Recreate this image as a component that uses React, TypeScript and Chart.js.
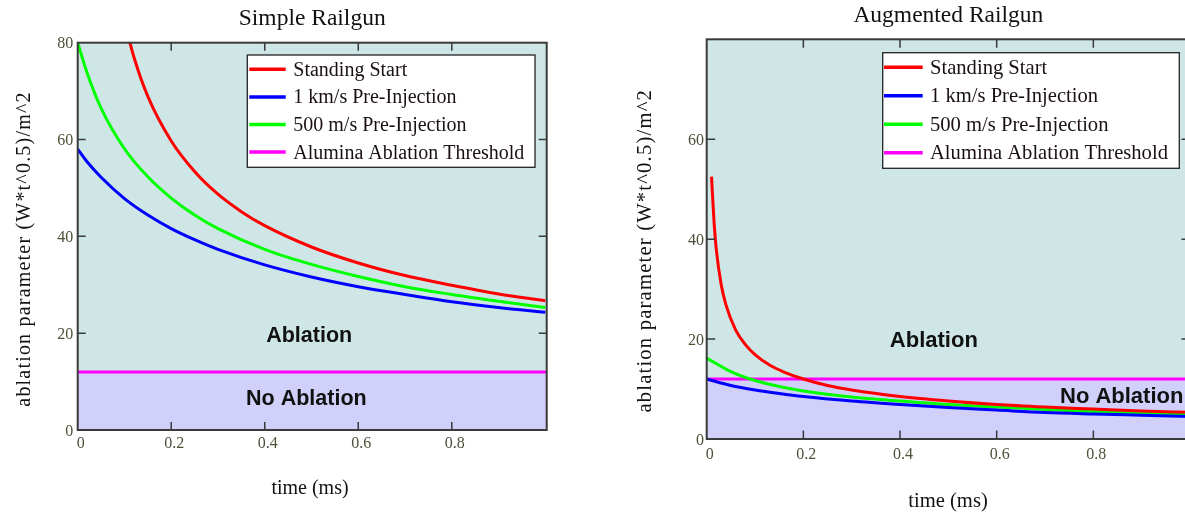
import React, { useEffect, useRef } from "react";
import { Chart, registerables } from "chart.js";

Chart.register(...registerables);

// ---------- data ----------
const seriesNames = [
  "Standing Start",
  "1 km/s Pre-Injection",
  "500 m/s Pre-Injection",
  "Alumina Ablation Threshold",
];
const seriesColors = ["#ff0000", "#0000ff", "#00ff00", "#ff00ff"];

const xTickValues = [0, 0.2, 0.4, 0.6, 0.8];
const simpleYTickValues = [0, 20, 40, 60, 80];
const augYTickValues = [0, 20, 40, 60];

const thresholdT = [0, 1.01];
const thresholdV = [12, 12];

// Simple railgun
const simpleRedT = [0.1, 0.12, 0.15, 0.2, 0.25, 0.3, 0.35, 0.4, 0.5, 0.6, 0.7, 0.8, 0.9, 1.0];
const simpleRedV = [84.4, 77.1, 68.9, 59.7, 53.4, 48.7, 45.1, 42.2, 37.8, 34.5, 31.9, 29.9, 28.1, 26.7];
const simpleT = [0, 0.02, 0.05, 0.1, 0.15, 0.2, 0.25, 0.3, 0.4, 0.5, 0.6, 0.7, 0.8, 0.9, 1.0];
const simpleBlueV = [58.0, 55.4, 52.2, 47.8, 44.4, 41.6, 39.3, 37.3, 34.1, 31.6, 29.6, 28.0, 26.5, 25.3, 24.3];
const simpleGreenV = [80.0, 73.8, 66.5, 58.1, 52.3, 47.9, 44.4, 41.6, 37.3, 34.2, 31.7, 29.6, 28.0, 26.6, 25.3];

// Augmented railgun
const augRedT = [0.01, 0.015, 0.02, 0.03, 0.04, 0.06, 0.08, 0.1, 0.13, 0.16, 0.2, 0.25, 0.3, 0.4, 0.5, 0.6, 0.7, 0.8, 0.9, 1.0];
const augRedV = [52.5, 43.7, 37.8, 30.9, 26.8, 21.8, 18.9, 16.9, 14.8, 13.4, 12.0, 10.7, 9.8, 8.5, 7.6, 6.9, 6.4, 6.0, 5.6, 5.35];
const augT = [0, 0.05, 0.1, 0.15, 0.2, 0.3, 0.4, 0.5, 0.6, 0.7, 0.8, 0.9, 1.0];
const augBlueV = [12.0, 10.7, 9.8, 9.1, 8.5, 7.6, 6.9, 6.3, 5.8, 5.3, 5.0, 4.75, 4.5];
const augGreenV = [16.2, 13.5, 11.7, 10.5, 9.6, 8.4, 7.6, 6.9, 6.4, 5.9, 5.5, 5.2, 4.95];

// region annotations (data coords: t, value at text baseline)
const regionTexts = ["Ablation", "No Ablation"];
const simpleRegionT = [0.495, 0.489];
const simpleRegionV = [18.1, 5.16];
const augRegionT = [0.47, 0.731];
const augRegionV = [18.4, 7.3];

const TEAL = "rgb(207,230,230)";
const LAVENDER = "rgb(208,208,250)";
const SERIF = "'Liberation Serif', 'Times New Roman', serif";
const SANS = "'Liberation Sans', Arial, sans-serif";

type PanelCfg = {
  left: number;
  w: number;
  padTop: number;
  padRight: number;
  yWidth: number;
  xHeight: number;
  xMax: number;
  yMax: number;
  yTicks: number[];
  yLabelPad: number;
  xLabelPad: number;
  tickLen: number;
  title: string;
  titleSize: number;
  titleBaseline: number;
  yTitleX: number;
  yTitleY: number;
  xTitleX: number;
  xTitleBaseline: number;
  axisTitleSize: number;
  legend: { right: number; top: number; w: number; h: number; row0: number; gap: number; s0: number; s1: number; tx: number; font: number };
  regionFont: number;
  regionT: number[];
  regionV: number[];
  regionAlign: CanvasTextAlign[];
  curves: { t: number[]; v: number[] }[];
};

const pts = (t: number[], v: number[]) => t.map((x, i) => ({ x, y: v[i] }));

const simpleCfg: PanelCfg = {
  left: 0,
  w: 590,
  padTop: 42.7,
  padRight: 590 - 546.7,
  yWidth: 77.7,
  xHeight: 82,
  xMax: 1.003,
  yMax: 80,
  yTicks: simpleYTickValues,
  yLabelPad: 4.4,
  xLabelPad: 4.4,
  tickLen: 8,
  title: "Simple Railgun",
  titleSize: 23.5,
  titleBaseline: 25,
  yTitleX: 29.7,
  yTitleY: 249,
  xTitleX: 310,
  xTitleBaseline: 494,
  axisTitleSize: 20,
  legend: { right: 11.7, top: 12.3, w: 287.7, h: 112.3, row0: 14.3, gap: 27.6, s0: 2, s1: 38.4, tx: 46, font: 20 },
  regionFont: 21.5,
  regionT: simpleRegionT,
  regionV: simpleRegionV,
  regionAlign: ["center", "center"],
  curves: [
    { t: simpleRedT, v: simpleRedV },
    { t: simpleT, v: simpleBlueV },
    { t: simpleT, v: simpleGreenV },
    { t: thresholdT, v: thresholdV },
  ],
};

const augCfg: PanelCfg = {
  left: 595,
  w: 610,
  padTop: 39.3,
  padRight: 610 - (1190 - 595),
  yWidth: 111.7,
  xHeight: 73,
  xMax: 1,
  yMax: 80,
  yTicks: augYTickValues,
  yLabelPad: 2.7,
  xLabelPad: 6.4,
  tickLen: 8.5,
  title: "Augmented Railgun",
  titleSize: 23.5,
  titleBaseline: 21.7,
  yTitleX: 56.4,
  yTitleY: 250.8,
  xTitleX: 353,
  xTitleBaseline: 506.7,
  axisTitleSize: 20.6,
  legend: { right: 10.7, top: 13.4, w: 296.6, h: 115.6, row0: 14.6, gap: 28.5, s0: 1.3, s1: 40, tx: 47.3, font: 20.6 },
  regionFont: 22,
  regionT: augRegionT,
  regionV: augRegionV,
  regionAlign: ["center", "left"],
  curves: [
    { t: augRedT, v: augRedV },
    { t: augT, v: augBlueV },
    { t: augT, v: augGreenV },
    { t: thresholdT, v: thresholdV },
  ],
};

function makeDecor(cfg: PanelCfg) {
  return {
    id: "decor",
    beforeDatasetsDraw(chart: any) {
      const { ctx, chartArea: a, scales } = chart;
      const ty = scales.y.getPixelForValue(thresholdV[0]);
      ctx.save();
      ctx.fillStyle = TEAL;
      ctx.fillRect(a.left, a.top, a.right - a.left, ty - a.top);
      ctx.fillStyle = LAVENDER;
      ctx.fillRect(a.left, ty, a.right - a.left, a.bottom - ty);
      ctx.restore();
    },
    afterDatasetsDraw(chart: any) {
      const { ctx, chartArea: a, scales } = chart;
      const xs = scales.x;
      const ys = scales.y;
      ctx.save();

      // region labels
      ctx.fillStyle = "#111111";
      ctx.font = `bold ${cfg.regionFont}px ${SANS}`;
      ctx.textBaseline = "alphabetic";
      regionTexts.forEach((txt, i) => {
        ctx.textAlign = cfg.regionAlign[i];
        ctx.fillText(txt, xs.getPixelForValue(cfg.regionT[i]), ys.getPixelForValue(cfg.regionV[i]));
      });

      // border
      ctx.strokeStyle = "#3a3a3a";
      ctx.lineWidth = 2;
      ctx.strokeRect(a.left, a.top, a.right - a.left, a.bottom - a.top);

      // inner tick marks on all four sides
      ctx.lineWidth = 1.5;
      ctx.beginPath();
      xTickValues.forEach((v) => {
        if (v <= 0) return;
        const px = xs.getPixelForValue(v);
        ctx.moveTo(px, a.bottom);
        ctx.lineTo(px, a.bottom - cfg.tickLen);
        ctx.moveTo(px, a.top);
        ctx.lineTo(px, a.top + cfg.tickLen);
      });
      cfg.yTicks.forEach((v) => {
        if (v <= 0 || v >= cfg.yMax) return;
        const py = ys.getPixelForValue(v);
        ctx.moveTo(a.left, py);
        ctx.lineTo(a.left + cfg.tickLen, py);
        ctx.moveTo(a.right, py);
        ctx.lineTo(a.right - cfg.tickLen, py);
      });
      ctx.stroke();

      // legend
      const L = cfg.legend;
      const bx = a.right - L.right - L.w;
      const by = a.top + L.top;
      ctx.fillStyle = "#ffffff";
      ctx.fillRect(bx, by, L.w, L.h);
      ctx.strokeStyle = "#222222";
      ctx.lineWidth = 1.3;
      ctx.strokeRect(bx, by, L.w, L.h);
      ctx.font = `${L.font}px ${SERIF}`;
      ctx.textAlign = "left";
      ctx.textBaseline = "alphabetic";
      chart.data.datasets.forEach((ds: any, i: number) => {
        const ry = by + L.row0 + i * L.gap;
        ctx.strokeStyle = ds.borderColor;
        ctx.lineWidth = 3.5;
        ctx.beginPath();
        ctx.moveTo(bx + L.s0, ry);
        ctx.lineTo(bx + L.s1, ry);
        ctx.stroke();
        ctx.fillStyle = "#1a1010";
        ctx.fillText(ds.label, bx + L.tx, ry + 6.5);
      });

      // chart title
      ctx.fillStyle = "#111111";
      ctx.textAlign = "center";
      ctx.font = `${cfg.titleSize}px ${SERIF}`;
      ctx.fillText(cfg.title, (a.left + a.right) / 2, cfg.titleBaseline);

      // x axis title
      ctx.font = `${cfg.axisTitleSize}px ${SERIF}`;
      ctx.fillText("time (ms)", cfg.xTitleX, cfg.xTitleBaseline);

      // y axis title
      ctx.save();
      ctx.translate(cfg.yTitleX, cfg.yTitleY);
      ctx.rotate(-Math.PI / 2);
      (ctx as any).letterSpacing = "1.2px";
      ctx.fillText("ablation parameter (W*t^0.5)/m^2", 0, 0);
      ctx.restore();

      ctx.restore();
    },
  };
}

function buildConfig(cfg: PanelCfg): any {
  return {
    type: "line",
    data: {
      datasets: cfg.curves.map((c, i) => ({
        label: seriesNames[i],
        data: pts(c.t, c.v),
        borderColor: seriesColors[i],
        backgroundColor: seriesColors[i],
        borderWidth: 3,
        pointRadius: 0,
        pointHoverRadius: 0,
        fill: false,
        cubicInterpolationMode: i === 3 ? "default" : "monotone",
      })),
    },
    options: {
      responsive: false,
      maintainAspectRatio: false,
      animation: false,
      devicePixelRatio: 1,
      events: [],
      layout: { padding: { top: cfg.padTop, right: cfg.padRight, left: 0, bottom: 0 } },
      plugins: {
        legend: { display: false },
        title: { display: false },
        tooltip: { enabled: false },
      },
      scales: {
        x: {
          type: "linear",
          min: 0,
          max: cfg.xMax,
          grid: { display: false, drawTicks: false },
          border: { display: false },
          afterBuildTicks: (scale: any) => {
            scale.ticks = xTickValues.map((v) => ({ value: v }));
          },
          afterFit: (scale: any) => {
            scale.height = cfg.xHeight;
          },
          ticks: {
            color: "#4f4f3a",
            font: { family: SERIF, size: 16 },
            padding: cfg.xLabelPad,
            labelOffset: 3,
            maxRotation: 0,
            autoSkip: false,
            callback: (v: any) => String(+Number(v).toFixed(1)),
          },
        },
        y: {
          type: "linear",
          min: 0,
          max: cfg.yMax,
          grid: { display: false, drawTicks: false },
          border: { display: false },
          afterBuildTicks: (scale: any) => {
            scale.ticks = cfg.yTicks.map((v) => ({ value: v }));
          },
          afterFit: (scale: any) => {
            scale.width = cfg.yWidth;
          },
          ticks: {
            color: "#4f4f3a",
            font: { family: SERIF, size: 16 },
            padding: cfg.yLabelPad,
            labelOffset: 1.5,
            autoSkip: false,
            callback: (v: any) => String(v),
          },
        },
      },
    },
    plugins: [makeDecor(cfg)],
  };
}

function Panel({ cfg }: { cfg: PanelCfg }) {
  const ref = useRef<HTMLCanvasElement>(null);
  useEffect(() => {
    if (!ref.current) return;
    const chart = new Chart(ref.current, buildConfig(cfg));
    return () => chart.destroy();
  }, [cfg]);
  return (
    <canvas
      ref={ref}
      width={cfg.w}
      height={512}
      style={{ position: "absolute", left: cfg.left, top: 0, width: cfg.w, height: 512, display: "block" }}
    />
  );
}

export default function App() {
  return (
    <div
      style={{
        position: "absolute",
        left: 0,
        top: 0,
        width: 1185,
        height: 512,
        overflow: "hidden",
        background: "#ffffff",
      }}
    >
      <Panel cfg={simpleCfg} />
      <Panel cfg={augCfg} />
    </div>
  );
}
